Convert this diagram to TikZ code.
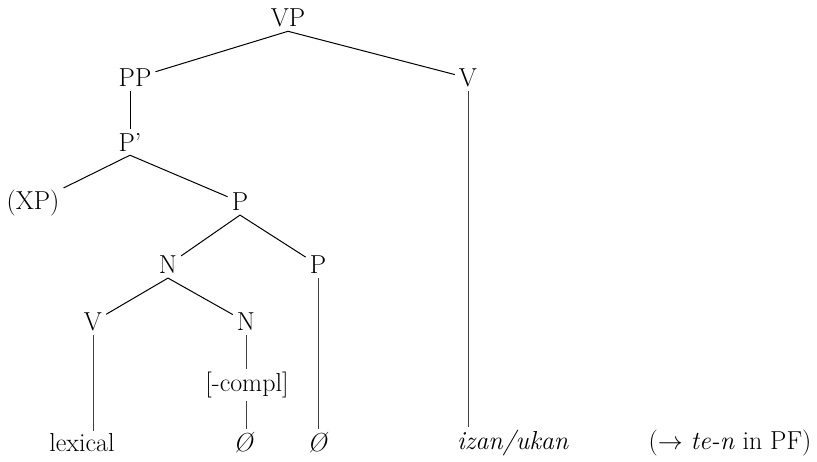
\documentclass[tikz,border=0pt]{standalone}
\usepackage{tikz}
\usetikzlibrary{positioning}
\tikzset{
  cat/.style    = {inner sep=4pt, font=\fontsize{26}{30}\selectfont},
  leaf/.style   = {inner sep=3pt, font=\fontsize{26}{30}\selectfont},
  branch/.style = {line width=1pt, black},
  stem/.style   = {line width=0.7pt, black!75},
}

\begin{document}
\begin{tikzpicture}[x=1pt, y=-1pt]
  \useasboundingbox (0,0) rectangle (817,462);
  \node[cat] (vp)    at (288, 18) {VP};
  \node[cat] (pp)    at (135, 78) {PP};
  \node[cat] (vtop)  at (468, 78) {V};
  \node[cat] (pbar)  at (130,142) {P'};
  \node[cat] (xp)    at (33,203)  {(XP)};
  \node[cat] (pup)   at (240,202) {P};
  \node[cat] (nup)   at (168,265) {N};
  \node[cat] (plow)  at (318,265) {P};
  \node[cat] (vlow)  at (93,322)  {V};
  \node[cat] (nlow)  at (246,322) {N};
  \node[leaf] (compl) at (247,385) {[-compl]};
  \node[leaf] (lex)   at (82,443)  {lexical};
  \node[leaf] (nulla) at (244,443) {\textit{\O}};
  \node[leaf] (nullb) at (318,443) {\textit{\O}};
  \node[leaf] (izan)  at (513,443) {\textit{izan/ukan}};
  \node[leaf] (pf)    at (730,443) {($\rightarrow$ \textit{te-n} in PF)};
  \draw[branch] (vp.south) to (pp) ;
  \draw[branch] (vp.south) to (vtop) ;
  \draw[branch] (pbar.north |- pp.south) to (pbar.north) ;
  \draw[branch] (pbar.south) to (xp) ;
  \draw[branch] (pbar.south) to (pup) ;
  \draw[branch] (pup.south) to (nup) ;
  \draw[branch] (pup.south) to (plow) ;
  \draw[branch] (nup.south) to (vlow) ;
  \draw[branch] (nup.south) to (nlow) ;
  \draw[stem] (nlow.south) to (nlow.south |- compl.north) ;
  \draw[stem] (nlow.south |- compl.south) to (nlow.south |- nulla.north) ;
  \draw[stem] (vlow.south) to (vlow.south |- lex.north) ;
  \draw[stem] (plow.south) to (plow.south |- nullb.north) ;
  \draw[stem] (vtop.south) to (vtop.south |- izan.north) ;
\end{tikzpicture}
\end{document}
